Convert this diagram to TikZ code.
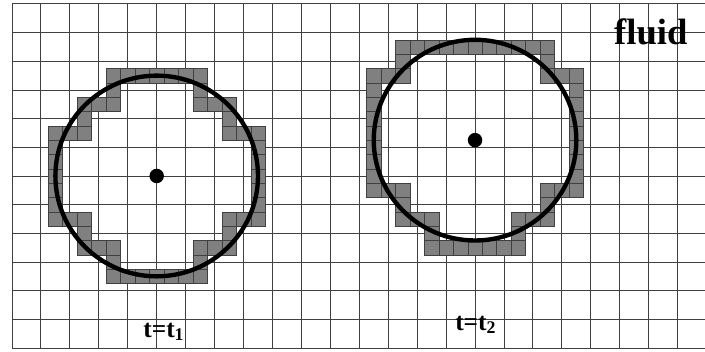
\documentclass[tikz,border=0pt]{standalone}
\usepackage{fontspec}
\setmainfont{Liberation Serif}
\usepackage{tikz}

\begin{document}
\begin{tikzpicture}[x=1cm,y=0.9907cm,
  gl/.style={draw=black!75,line width=0.9pt},
  cel/.style={fill=black!50,draw=black!75,line width=0.5pt},
  ring/.style={draw=black,line width=4.3pt},
  dot/.style={circle,fill=black,inner sep=0pt,minimum size=0.5cm},
  lb/.style={font=\bfseries\fontsize{25}{30}\selectfont,inner sep=0pt,anchor=base west}]
\useasboundingbox (-0.4147,-0.1046) rectangle (23.946,12.138);
\fill[white] (-0.4147,-0.1046) rectangle (23.946,12.138);
\foreach \x in {0,...,23} \draw[gl] (\x,0) -- (\x,12);
\foreach \y in {0,...,12} \draw[gl] (0,\y) -- (23.946,\y);
\coordinate (c1) at (5,6);
\coordinate (c2) at (16,7.25);
\begin{scope}[shift={(5,6)}]
\foreach \k/\is in {7/{-3,...,3},6/{-3,3},5/{-5,-4,-3,3,4,5},4/{-5,5},3/{-7,-6,-5,5,6,7},
  2/{-7,7},1/{-7,7},0/{-7,7},-1/{-7,7},-2/{-7,7},
  -3/{-7,-6,-5,5,6,7},-4/{-5,5},-5/{-5,-4,-3,3,4,5},-6/{-3,3},-7/{-3,...,3}}
  \foreach \i in \is \draw[cel] (0.5*\i-0.25,0.5*\k-0.25) rectangle ++(0.5,0.5);
\end{scope}
\begin{scope}[shift={(16,7)}]
\foreach \k/\is in {7/{-5,...,5},6/{-5,5},5/{-7,-6,-5,5,6,7},
  4/{-7,7},3/{-7,7},2/{-7,7},1/{-7,7},0/{-7,7},-1/{-7,7},-2/{-7,7},
  -3/{-7,-6,-5,5,6,7},-4/{-5,5},-5/{-5,-4,-3,3,4,5},-6/{-3,3},-7/{-3,...,3}}
  \foreach \i in \is \draw[cel] (0.5*\i-0.25,0.5*\k-0.25) rectangle ++(0.5,0.5);
\end{scope}
\draw[ring] (c1) circle (3.5);
\draw[ring] (c2) circle (3.5);
\node[dot] (d1) at (c1) {};
\node[dot] (d2) at (c2) {};
\node[lb,font=\bfseries\fontsize{36}{40}\selectfont] (fl) at (20.8,10.57) {fluid};
\node[lb] (t1) at (4.53,0.384) {t=t\textsubscript{1}};
\node[lb] (t2) at (15.31,0.628) {t=t\textsubscript{2}};
\end{tikzpicture}
\end{document}
